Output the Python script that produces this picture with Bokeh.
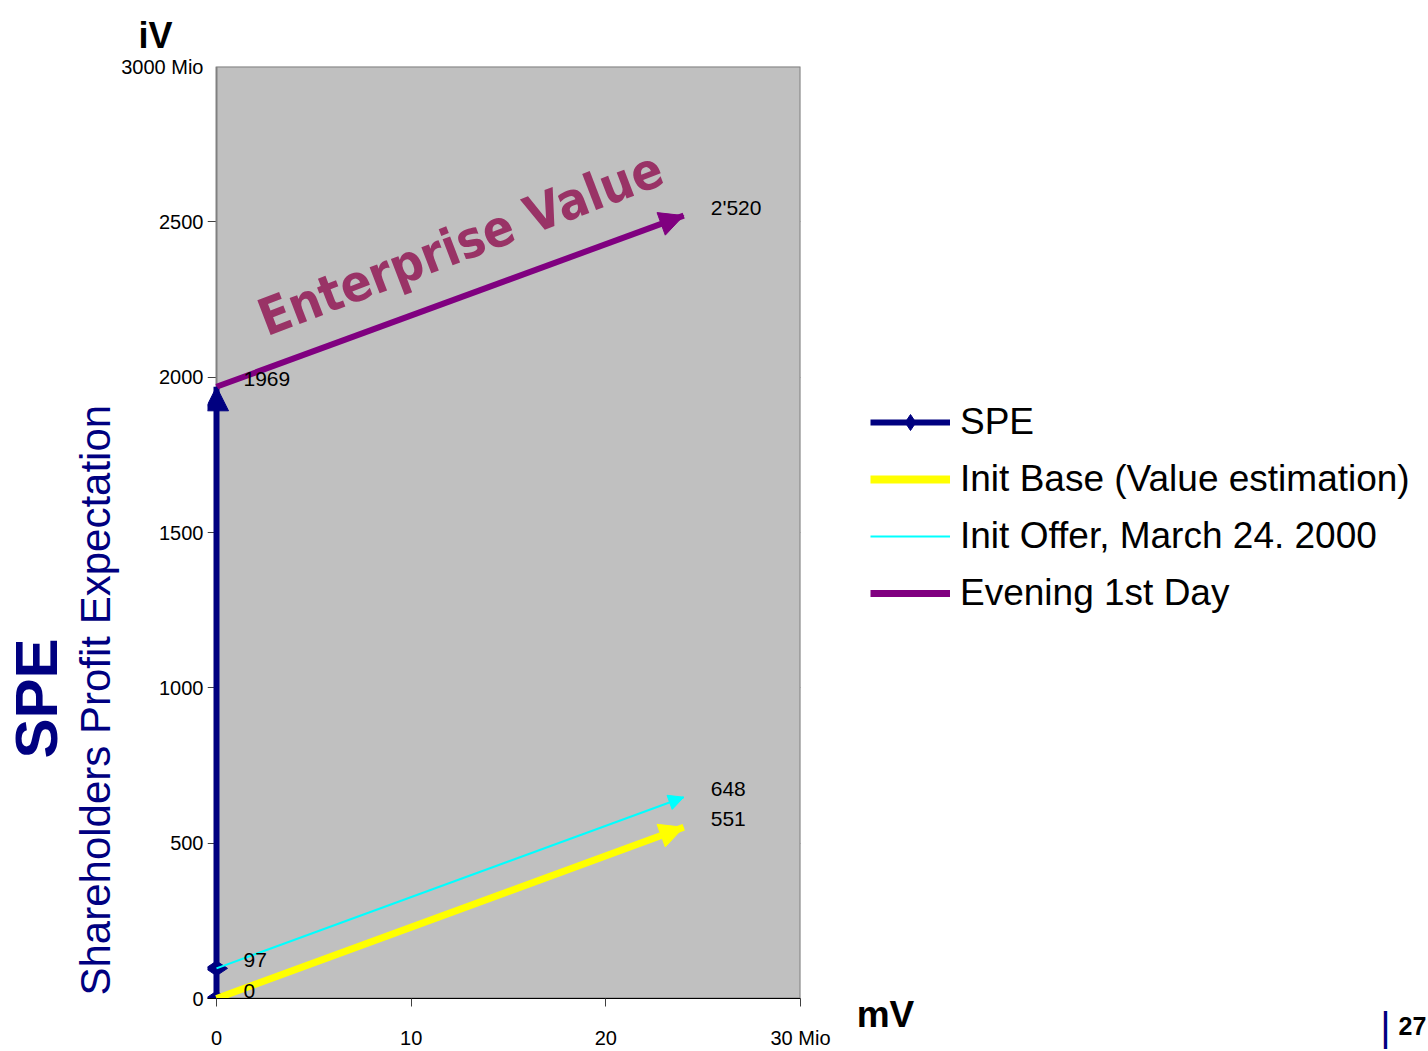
import math
from bokeh.plotting import figure
from bokeh.layouts import row
from bokeh.models import (Range1d, Arrow, NormalHead, Label, Legend, LegendItem,
                          FixedTicker, ColumnDataSource, Title)
from bokeh.core.properties import value
from bokeh.embed import file_html
from bokeh.resources import INLINE

# ---------------- data ----------------
series_names = ["Init Base (Value estimation)", "Init Offer, March 24. 2000", "Evening 1st Day"]
mv_start = [0, 0, 0]          # mV (Mio) at start
mv_end = [24, 24, 24]         # mV (Mio) at end
iv_start = [0, 97, 1969]      # iV (Mio) at start
iv_end = [551, 648, 2520]     # iV (Mio) at end
start_labels = ["0", "97", "1969"]
end_labels = ["551", "648", "2'520"]
series_colors = ["#FFFF00", "#00FFFF", "#800080"]
series_widths = [7, 2, 6]

spe_x = [0, 0]
spe_y = [0, 1969]
spe_marker_x = [0, 0]
spe_marker_y = [0, 97]

x_min, x_max = 0, 30
y_min, y_max = 0, 3000
y_ticks = [0, 500, 1000, 1500, 2000, 2500, 3000]
y_tick_labels = ["0", "500", "1000", "1500", "2000", "2500", "3000 Mio"]
x_ticks = [0, 10, 20, 30]
x_tick_labels = ["0", "10", "20", "30 Mio"]

NAVY = "#000080"
FONT = "Liberation Sans"

# layout (canvas px)
X0, X30, YT, YB = 216, 800, 66, 998
STRIP = 9                      # white strip left of the chart area (tick marks)
W_MAIN, W_RIGHT, H = 850, 578, 1051
px_per_x = (X30 - X0) / (x_max - x_min)

p = figure(width=W_MAIN, height=H, output_backend="svg", toolbar_location=None,
           x_range=Range1d(x_min - STRIP / px_per_x, x_max), y_range=Range1d(y_min, y_max),
           min_border_left=X0 - STRIP, min_border_top=YT,
           min_border_right=W_MAIN - X30, min_border_bottom=H - YB)
p.background_fill_color = "white"
p.border_fill_color = "white"
p.outline_line_color = None

# gray chart area
p.quad(left=[x_min], right=[x_max], bottom=[y_min], top=[y_max],
       fill_color="#C0C0C0", line_color="#808080", line_width=2)

# axes
p.yaxis.ticker = FixedTicker(ticks=y_ticks)
p.yaxis.major_label_overrides = {t: l for t, l in zip(y_ticks, y_tick_labels)}
p.xaxis.ticker = FixedTicker(ticks=x_ticks)
p.xaxis.major_label_overrides = {t: l for t, l in zip(x_ticks, x_tick_labels)}
for ax in (p.xaxis, p.yaxis):
    ax.major_tick_out = 8
    ax.major_tick_in = 0
    ax.minor_tick_out = 0
    ax.minor_tick_in = 0
    ax.axis_line_color = "black"
    ax.major_tick_line_color = "#404040"
    ax.major_label_text_font = FONT
    ax.major_label_text_font_size = "20px"
    ax.major_label_text_color = "black"
p.yaxis.axis_line_color = None
p.yaxis.major_tick_line_color = None
p.yaxis.major_tick_out = 0
p.yaxis.major_label_standoff = 4
p.xaxis.major_label_standoff = 20
p.xgrid.visible = False
p.ygrid.ticker = FixedTicker(ticks=y_ticks)
p.ygrid.grid_line_color = "#404040"
p.ygrid.grid_line_width = 1

# titles around the chart
p.title.text = "iV"
p.title.align = "left"
p.title.offset = -69
p.title.standoff = 21
p.title.text_font = FONT
p.title.text_font_size = "36px"
p.title.text_font_style = "bold"
p.title.text_color = "black"

p.add_layout(Title(text="Shareholders Profit Expectation", align="left", offset=3, standoff=0,
                   text_font=FONT, text_font_size="42px", text_font_style="normal",
                   text_color=NAVY), "left")
p.add_layout(Title(text="SPE", align="left", offset=240, standoff=0,
                   text_font=FONT, text_font_size="60px", text_font_style="bold",
                   text_color=NAVY), "left")

# series lines with arrow heads
p.line(spe_x, spe_y, line_color=NAVY, line_width=6)
p.add_layout(Arrow(x_start=spe_x[0], y_start=spe_y[0], x_end=spe_x[1], y_end=spe_y[1],
                   line_alpha=0, line_width=6,
                   end=NormalHead(size=24, fill_color=NAVY, line_color=NAVY)))
p.scatter(spe_marker_x, spe_marker_y, marker="diamond", angle=math.pi / 2, size=22,
          fill_color=NAVY, line_color=NAVY)

for i, name in enumerate(series_names):
    p.line([mv_start[i], mv_end[i]], [iv_start[i], iv_end[i]],
           line_color=series_colors[i], line_width=series_widths[i])
    hs = 24 if series_widths[i] > 3 else 15
    p.add_layout(Arrow(x_start=mv_start[i], y_start=iv_start[i],
                       x_end=mv_end[i], y_end=iv_end[i],
                       line_alpha=0, line_width=series_widths[i],
                       end=NormalHead(size=hs, fill_color=series_colors[i],
                                      line_color=series_colors[i], line_width=1)))

# value labels
src_s = ColumnDataSource(dict(x=mv_start, y=iv_start, t=start_labels))
src_e = ColumnDataSource(dict(x=mv_end, y=iv_end, t=end_labels))
for src in (src_s, src_e):
    p.text(x="x", y="y", text="t", source=src, x_offset=27, y_offset=-8,
           text_font=value(FONT), text_font_size="21px", text_color="black",
           text_align="left", text_baseline="middle")

# Enterprise Value word art
p.add_layout(Label(x=x_min + (460 - X0) / px_per_x,
                   y=y_min + (YB - 243) / (YB - YT) * (y_max - y_min),
                   text="Enterprise Value", angle=21, angle_units="deg",
                   text_font="'Liberation Sans Narrow', 'DejaVu Sans Condensed', sans-serif",
                   text_font_style="bold", text_font_size="51px", text_color="#993366",
                   text_align="center", text_baseline="middle"))

# ---------------- right-hand panel: legend and side texts ----------------
q = figure(width=W_RIGHT, height=H, output_backend="svg", toolbar_location=None,
           x_range=Range1d(W_MAIN, W_MAIN + W_RIGHT), y_range=Range1d(H, 0),
           x_axis_type=None, y_axis_type=None, min_border=0)
q.outline_line_color = None
q.xgrid.visible = False
q.ygrid.visible = False
q.background_fill_color = "white"
q.border_fill_color = "white"
for fig in (p, q):
    if "frame_align" in fig.properties():
        fig.frame_align = False

nan = float("nan")
leg_items = []
r1 = q.line(x=[nan, nan], y=[nan, nan], line_color=NAVY, line_width=6)
r2 = q.scatter(x=[nan], y=[nan], marker="diamond", size=20,
               fill_color=NAVY, line_color=NAVY)
leg_items.append(LegendItem(label="SPE", renderers=[r1, r2]))
for i, name in enumerate(series_names):
    r = q.line(x=[nan, nan], y=[nan, nan], line_color=series_colors[i],
               line_width=series_widths[i] + (1 if series_widths[i] > 3 else 0))
    leg_items.append(LegendItem(label=name, renderers=[r]))

legend = Legend(items=leg_items, location=(870 - W_MAIN, H - 614), orientation="vertical",
                label_text_font=FONT, label_text_font_size="37px", label_text_color="black",
                glyph_width=80, glyph_height=40, label_height=40, spacing=15,
                label_standoff=10, padding=0, margin=0,
                border_line_alpha=0, background_fill_alpha=0)
q.add_layout(legend, "center")

def clabel(x, y, text, size, bold=False, color="black"):
    q.add_layout(Label(x=x, y=y, text=text, text_font=FONT,
                       text_font_style="bold" if bold else "normal",
                       text_font_size=size, text_color=color,
                       text_align="center", text_baseline="middle"))

clabel(885, 1014, "mV", "37px", bold=True)
clabel(1412, 1025, "27", "25px", bold=True)
clabel(1385, 1026, "|", "40px", color=NAVY)

layout = row(p, q, spacing=0)
open("out.html", "w").write(file_html(layout, INLINE))
